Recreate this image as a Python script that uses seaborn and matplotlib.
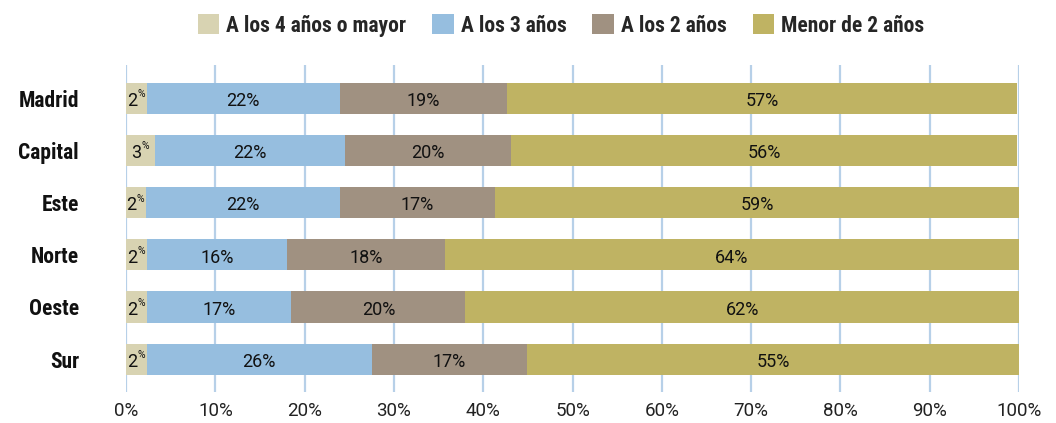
import matplotlib
matplotlib.use("Agg")
import matplotlib.pyplot as plt
import matplotlib.patches as mpatches
import numpy as np
import pandas as pd
import seaborn as sns

regions = ["Madrid", "Capital", "Este", "Norte", "Oeste", "Sur"]
series_names = ["A los 4 años o mayor", "A los 3 años", "A los 2 años", "Menor de 2 años"]
v4 = [2.3, 3.2, 2.2, 2.3, 2.3, 2.3]
v3 = [21.6, 21.3, 21.7, 15.7, 16.2, 25.2]
v2 = [18.8, 18.6, 17.4, 17.7, 19.5, 17.4]
v1 = [57.1, 56.7, 58.7, 64.3, 62.0, 55.1]
lab4 = ["2", "3", "2", "2", "2", "2"]
lab3 = ["22%", "22%", "22%", "16%", "17%", "26%"]
lab2 = ["19%", "20%", "17%", "18%", "20%", "17%"]
lab1 = ["57%", "56%", "59%", "64%", "62%", "55%"]
xticks = [0, 10, 20, 30, 40, 50, 60, 70, 80, 90, 100]
xticklabels = ["0%", "10%", "20%", "30%", "40%", "50%", "60%", "70%", "80%", "90%", "100%"]

colors = ["#d8d3b2", "#96bedf", "#a09181", "#bfb363"]
grid_color = "#b7d0e8"

sns.set_theme(style="white")
BOLD = ["Roboto Condensed", "DejaVu Sans"]
NUM = ["Roboto", "DejaVu Sans"]
plt.rcParams["font.family"] = NUM

fig = plt.figure(figsize=(10.56, 4.23), dpi=100)
ax = fig.add_axes([126.1 / 1056, 1 - 392 / 423, (1019 - 126.1) / 1056, (392 - 65) / 423])

df = pd.DataFrame({"region": regions, "v4": v4, "v3": v3, "v2": v2, "v1": v1})
df["c4"] = df["v4"]
df["c3"] = df["c4"] + df["v3"]
df["c2"] = df["c3"] + df["v2"]
df["c1"] = df["c2"] + df["v1"]

bar_h = 0.595
for col, color in zip(["c1", "c2", "c3", "c4"], colors[::-1]):
    sns.barplot(data=df, x=col, y="region", orient="h", color=color,
                width=bar_h, ax=ax, saturation=1, linewidth=0, zorder=3)

for x in xticks:
    ax.axvline(x, color=grid_color, lw=1.6, zorder=1)

ax.set_xlim(0, 100)
ax.set_ylim(5.63, -0.64)
ax.set_xticks(xticks)
ax.set_xticklabels(xticklabels, fontsize=13.5, color="#222222", family=NUM)
ax.set_xlabel("")
ax.set_ylabel("")
ax.tick_params(axis="x", length=0, pad=7)
ax.tick_params(axis="y", length=0, pad=34)
for t in ax.get_yticklabels():
    t.set_fontsize(15.5)
    t.set_fontweight("bold")
    t.set_family(BOLD)
    t.set_color("#111111")
for s in ax.spines.values():
    s.set_visible(False)

txt_kw = dict(fontsize=13, color="#111111", va="center_baseline", zorder=5, family=NUM)
for i in range(len(regions)):
    c4, c3, c2, c1 = df.loc[i, ["c4", "c3", "c2", "c1"]]
    ax.annotate(lab4[i], (c4 / 2, i), xytext=(0.4, -0.5), textcoords="offset points",
                ha="right", **txt_kw)
    ax.annotate("%", (c4 / 2, i), xytext=(0.7, 3.0), textcoords="offset points",
                ha="left", fontsize=7.5, color="#111111", va="center", zorder=5, family=NUM)
    ax.annotate(lab3[i], ((c4 + c3) / 2, i), xytext=(0, -0.5), textcoords="offset points", ha="center", **txt_kw)
    ax.annotate(lab2[i], ((c3 + c2) / 2, i), xytext=(0, -0.5), textcoords="offset points", ha="center", **txt_kw)
    ax.annotate(lab1[i], ((c2 + c1) / 2, i), xytext=(0, -0.5), textcoords="offset points", ha="center", **txt_kw)

handles = [mpatches.Patch(facecolor=c, edgecolor="none", label=n) for c, n in zip(colors, series_names)]
leg = fig.legend(handles=handles, loc="center", bbox_to_anchor=(561 / 1056, 1 - 25.5 / 423),
                 ncol=4, frameon=False, handlelength=1.0, handleheight=1.0,
                 handletextpad=0.33, columnspacing=1.2,
                 prop={"family": BOLD, "weight": "bold", "size": 15.5})

fig.savefig("out.png", dpi=100)
